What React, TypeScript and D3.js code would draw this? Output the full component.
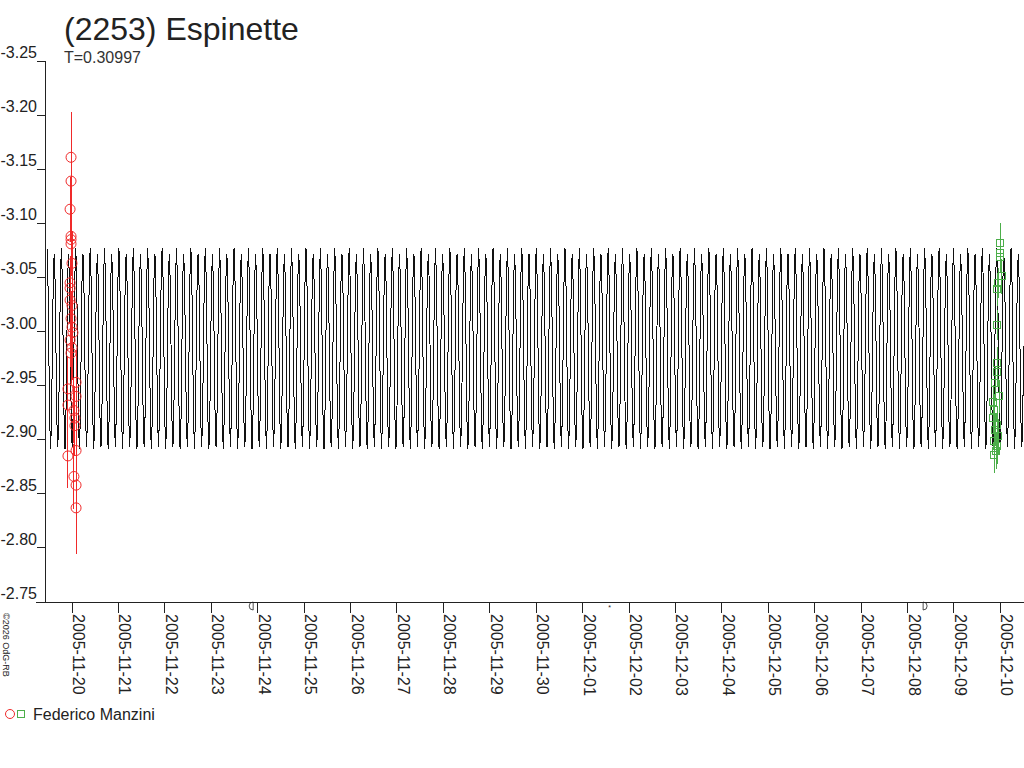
import * as d3 from 'd3';

const title = '(2253) Espinette';
const periodLabel = 'T=0.30997';
const periodDays = 0.30997;
const observer = 'Federico Manzini';
const credit = '©2026 OdG-RB';

// one rotation of the model lightcurve, 16 equal phase steps
const modelShape = [
  -3.077, -3.05, -2.984, -2.918, -2.891, -2.918, -2.984, -3.05,
  -3.072, -3.046, -2.982, -2.917, -2.893, -2.921, -2.987, -3.052,
];

const dateTicks = [
  '2005-11-20', '2005-11-21', '2005-11-22', '2005-11-23', '2005-11-24', '2005-11-25',
  '2005-11-26', '2005-11-27', '2005-11-28', '2005-11-29', '2005-11-30', '2005-12-01',
  '2005-12-02', '2005-12-03', '2005-12-04', '2005-12-05', '2005-12-06', '2005-12-07',
  '2005-12-08', '2005-12-09', '2005-12-10',
];
const magTicks = [-3.25, -3.2, -3.15, -3.1, -3.05, -3.0, -2.95, -2.9, -2.85, -2.8, -2.75];

// session 1 (hours from 2005-11-20 00:00 UT)
const redHours = [
  -0.5, -0.5, -1.0, -0.5, -0.5, -0.5, 0.0, -1.0, -1.0, -1.0, 0.0, -0.5, 0.0, 0.5, -1.0,
  0.0, -0.5, 2.1, -2.1, 2.1, -2.1, 1.0, 1.5, 1.5, 2.1, -2.1, 1.0, 2.1, 2.1,
];
const redMags = [
  -3.161, -3.139, -3.113, -3.088, -3.085, -3.081, -3.063, -3.045, -3.04, -3.029, -3.024,
  -3.012, -3.004, -2.999, -2.992, -2.985, -2.98, -2.953, -2.947, -2.94, -2.932, -2.927,
  -2.92, -2.913, -2.89, -2.885, -2.866, -2.858, -2.837,
];
const redErrs = [
  0.042, 0.03, 0.03, 0.025, 0.028, 0.03, 0.03, 0.025, 0.03, 0.03, 0.028, 0.025, 0.03,
  0.028, 0.025, 0.03, 0.028, 0.03, 0.03, 0.028, 0.03, 0.03, 0.03, 0.028, 0.03, 0.03,
  0.03, 0.04, 0.043,
];

// session 2 (hours from 2005-12-10 00:00 UT)
const greenHours = [
  0.0, -0.2, 0.0, 0.8, -1.2, -1.7, -1.7, -1.7, -1.7, -2.7, -0.7, -3.7, -3.2, -3.7, -1.7,
  -2.7, -1.2, -3.2, -1.7, -2.2, -3.2,
];
const greenMags = [
  -3.082, -3.073, -3.069, -3.051, -3.045, -3.039, -3.006, -2.971, -2.963, -2.952, -2.94,
  -2.935, -2.927, -2.92, -2.914, -2.909, -2.903, -2.899, -2.894, -2.89, -2.886,
];
const greenErrs = [
  0.018, 0.015, 0.014, 0.016, 0.014, 0.015, 0.014, 0.015, 0.014, 0.016, 0.015, 0.016,
  0.015, 0.014, 0.016, 0.015, 0.016, 0.015, 0.016, 0.017, 0.017,
];

// moon phases shown on the time axis
const moonDates = ['2005-11-23T22:11Z', '2005-12-01T15:01Z', '2005-12-08T09:36Z'];
const moonKinds = ['last', 'new', 'first'];

const RED = '#f02a2a';
const GREEN = '#4cae4a';
const INK = '#222';
const FONT = '"Liberation Sans", Arial, sans-serif';

export default function App() {
  const width = 1024;
  const height = 768;
  const left = 45;
  const axisY = 602;

  const dayMs = 86400000;
  const hourMs = 3600000;
  const parse = (s: string) => new Date(s + 'T00:00:00Z');

  const x = d3.scaleUtc()
    .domain([parse(dateTicks[0]), parse(dateTicks[dateTicks.length - 1])])
    .range([72, 1000.4]);
  const y = d3.scaleLinear().domain([-3.25, -2.75]).range([61, axisY]);

  // model curve across the plot
  const t0 = x.invert(47).getTime();
  const t1 = x.invert(width).getTime();
  const periodMs = periodDays * dayMs;
  const n = modelShape.length;
  const model: [number, number][] = [];
  for (let k = 0; t0 + k * periodMs / n <= t1; k++) {
    const t = t0 + (k * periodMs) / n;
    model.push([x(new Date(t)), y(modelShape[k % n])]);
  }
  const modelPath = d3.line()(model) || '';

  const session = (base: string, hours: number[], mags: number[], errs: number[]) =>
    hours.map((h, i) => ({
      cx: x(new Date(parse(base).getTime() + h * hourMs)),
      cy: y(mags[i]),
      top: y(mags[i] - errs[i]),
      bottom: y(mags[i] + errs[i]),
    }));
  const red = session('2005-11-20', redHours, redMags, redErrs);
  const green = session('2005-12-10', greenHours, greenMags, greenErrs);

  const moonGlyph = (kind: string, cx: number) => {
    const cy = 606;
    if (kind === 'last') {
      return (
        <g key={kind} fill="none" stroke={INK} strokeWidth={0.8}>
          <path d={`M${cx + 1},${cy - 4} A4,4 0 0 0 ${cx + 1},${cy + 4} Z`} />
        </g>
      );
    }
    if (kind === 'first') {
      return (
        <g key={kind} fill="none" stroke={INK} strokeWidth={0.8}>
          <path d={`M${cx - 1},${cy - 4} A4,4 0 0 1 ${cx - 1},${cy + 4} Z`} />
        </g>
      );
    }
    return (
      <text key={kind} x={cx} y={cy + 4} fontSize={7} fill={INK} textAnchor="middle"
        fontFamily={FONT}>*</text>
    );
  };

  return (
    <svg width={width} height={height}
      style={{ position: 'absolute', left: 0, top: 0, background: '#fff' }}>
      <text x={64} y={40} fontSize={32} fill={INK} fontFamily={FONT}>{title}</text>
      <text x={64} y={63} fontSize={16} fill="#333" fontFamily={FONT}>{periodLabel}</text>

      {/* y axis */}
      <g shapeRendering="crispEdges">
        <line x1={left} x2={left} y1={y(-3.25)} y2={axisY} stroke={INK} />
        {magTicks.map((m) => (
          <line key={m} x1={37} x2={left} y1={y(m)} y2={y(m)} stroke={INK} />
        ))}
      </g>
      {magTicks.map((m) => (
        <text key={m} x={37} y={y(m) - 3} textAnchor="end" fontSize={16} fill={INK}
          fontFamily={FONT}>{m.toFixed(2)}</text>
      ))}

      {/* x axis */}
      <line x1={36} x2={width} y1={axisY} y2={axisY} stroke={INK} shapeRendering="crispEdges" />
      {dateTicks.map((d) => {
        const tx = x(parse(d));
        return (
          <g key={d}>
            <line x1={tx} x2={tx} y1={axisY} y2={axisY + 11} stroke={INK}
              shapeRendering="crispEdges" />
            <text transform={`translate(${tx + 1},${axisY + 12}) rotate(90)`} fontSize={16}
              fill={INK} fontFamily={FONT}>{d}</text>
          </g>
        );
      })}
      {moonDates.map((d, i) => moonGlyph(moonKinds[i], x(new Date(d)) - 2))}

      <text transform="translate(3,613) rotate(90)" fontSize={9} fill={INK}
        fontFamily={FONT}>{credit}</text>

      {/* model */}
      <path d={modelPath} fill="none" stroke="#111" strokeWidth={1} shapeRendering="crispEdges" />

      {/* session 1 */}
      {red.map((p, i) => (
        <line key={'re' + i} x1={p.cx} x2={p.cx} y1={p.top} y2={p.bottom} stroke={RED}
          shapeRendering="crispEdges" />
      ))}
      {red.map((p, i) => (
        <circle key={'rc' + i} cx={p.cx} cy={p.cy} r={5} fill="none" stroke={RED} />
      ))}

      {/* session 2 */}
      {green.map((p, i) => (
        <line key={'ge' + i} x1={p.cx} x2={p.cx} y1={p.top} y2={p.bottom} stroke={GREEN}
          shapeRendering="crispEdges" />
      ))}
      {green.map((p, i) => (
        <rect key={'gs' + i} x={Math.round(p.cx) - 3.5} y={Math.round(p.cy) - 3.5} width={7}
          height={7} fill="none" stroke={GREEN} shapeRendering="crispEdges" />
      ))}

      {/* legend */}
      <circle cx={10} cy={714} r={4.5} fill="none" stroke={RED} />
      <rect x={17.5} y={710.5} width={7} height={7} fill="none" stroke={GREEN}
        shapeRendering="crispEdges" />
      <text x={33} y={720} fontSize={16} fill={INK} fontFamily={FONT}>{observer}</text>
    </svg>
  );
}
